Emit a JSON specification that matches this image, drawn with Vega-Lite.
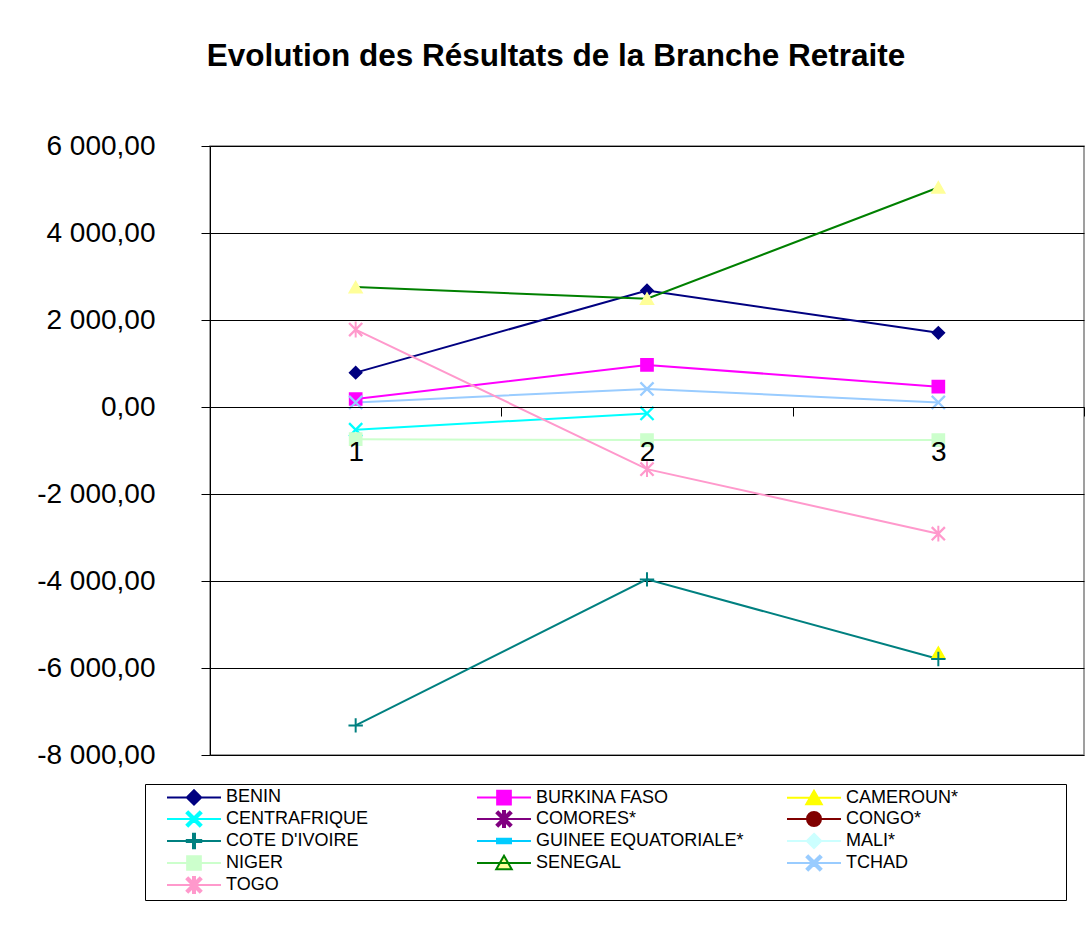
{
  "$schema": "https://vega.github.io/schema/vega-lite/v6.json",
  "width": 874,
  "height": 609,
  "autosize": {"type": "none"},
  "padding": {"left": 210, "top": 146, "right": 5, "bottom": 177},
  "background": "white",
  "config": {
    "locale": {"number": {"decimal": ",", "thousands": " ", "grouping": [3], "currency": ["", ""], "minus": "-"}},
    "font": "Liberation Sans",
    "view": {"stroke": "#808080", "strokeWidth": 1.5},
    "legend": {
      "orient": "none",
      "legendX": -65,
      "legendY": 638,
      "direction": "horizontal",
      "columns": 3,
      "labelFont": "Liberation Sans",
      "labelFontSize": 18,
      "labelColor": "black",
      "labelLimit": 400,
      "symbolSize": 324,
      "symbolStrokeWidth": 2,
      "symbolOpacity": 1,
      "symbolOffset": 36,
      "labelOffset": 22,
      "padding": 3,
      "strokeColor": "black",
      "fillColor": "white",
      "rowPadding": -2.5,
      "columnPadding": 11,
      "gridAlign": "all"
    }
  },
  "title": {
    "text": "Evolution des Résultats de la Branche Retraite",
    "font": "Liberation Sans",
    "fontSize": 31.5,
    "fontWeight": "bold",
    "color": "black",
    "anchor": "middle",
    "dx": -91,
    "offset": 60
  },
  "data": {
    "values": [
      {"country": "BENIN", "x": "1", "v": 790},
      {"country": "BENIN", "x": "2", "v": 2680},
      {"country": "BENIN", "x": "3", "v": 1705},
      {"country": "BURKINA FASO", "x": "1", "v": 184},
      {"country": "BURKINA FASO", "x": "2", "v": 968},
      {"country": "BURKINA FASO", "x": "3", "v": 468},
      {"country": "CAMEROUN*", "x": "3", "v": -5650},
      {"country": "CENTRAFRIQUE", "x": "1", "v": -523},
      {"country": "CENTRAFRIQUE", "x": "2", "v": -147},
      {"country": "COTE D'IVOIRE", "x": "1", "v": -7320},
      {"country": "COTE D'IVOIRE", "x": "2", "v": -3963},
      {"country": "COTE D'IVOIRE", "x": "3", "v": -5793},
      {"country": "NIGER", "x": "1", "v": -740},
      {"country": "NIGER", "x": "2", "v": -760},
      {"country": "NIGER", "x": "3", "v": -760},
      {"country": "SENEGAL", "x": "1", "v": 2756},
      {"country": "SENEGAL", "x": "2", "v": 2488},
      {"country": "SENEGAL", "x": "3", "v": 5046},
      {"country": "TCHAD", "x": "1", "v": 106},
      {"country": "TCHAD", "x": "2", "v": 415},
      {"country": "TCHAD", "x": "3", "v": 106},
      {"country": "TOGO", "x": "1", "v": 1781},
      {"country": "TOGO", "x": "2", "v": -1428},
      {"country": "TOGO", "x": "3", "v": -2912}
    ]
  },
  "layer": [
    {
      "mark": {"type": "line", "strokeWidth": 2},
      "encoding": {
        "x": {
          "field": "x",
          "type": "ordinal",
          "scale": {"type": "band", "domain": ["1", "2", "3"], "paddingInner": 0, "paddingOuter": 0},
          "axis": {
            "orient": "bottom",
            "offset": -348,
            "tickBand": "extent",
            "tickSize": 9,
            "tickColor": "black",
            "domainColor": "black",
            "labelFont": "Liberation Sans",
            "labelFontSize": 28,
            "labelColor": "black",
            "labelPadding": 22,
            "labelAngle": 0,
            "title": null,
            "grid": false,
            "zindex": 1
          }
        },
        "y": {
          "field": "v",
          "type": "quantitative",
          "scale": {"domain": [-8000, 6000], "nice": false, "zero": false},
          "axis": {
            "values": [-8000, -6000, -4000, -2000, 0, 2000, 4000, 6000],
            "format": ",.2f",
            "labelFont": "Liberation Sans",
            "labelFontSize": 28,
            "labelColor": "black",
            "labelPadding": 46,
            "tickSize": 9,
            "tickColor": "black",
            "domainColor": "black",
            "gridColor": "black",
            "gridOpacity": 1,
            "gridWidth": 1,
            "title": null,
            "zindex": 0
          }
        },
        "stroke": {
          "field": "country",
          "type": "nominal",
          "scale": {
            "domain": ["BENIN", "BURKINA FASO", "CAMEROUN*", "CENTRAFRIQUE", "COMORES*", "CONGO*", "COTE D'IVOIRE", "GUINEE EQUATORIALE*", "MALI*", "NIGER", "SENEGAL", "TCHAD", "TOGO"],
            "range": ["#000080", "#FF00FF", "#FFFF00", "#00FFFF", "#800080", "#800000", "#008080", "#00CCFF", "#CCFFFF", "#CCFFCC", "#008000", "#99CCFF", "#FF99CC"]
          },
          "legend": {"title": null}
        }
      }
    },
    {
      "mark": {"type": "point", "filled": true, "opacity": 1, "size": 324, "strokeWidth": 0},
      "encoding": {
        "x": {"field": "x", "type": "ordinal"},
        "y": {"field": "v", "type": "quantitative"},
        "fill": {
          "field": "country",
          "type": "nominal",
          "scale": {
            "domain": ["BENIN", "BURKINA FASO", "CAMEROUN*", "CENTRAFRIQUE", "COMORES*", "CONGO*", "COTE D'IVOIRE", "GUINEE EQUATORIALE*", "MALI*", "NIGER", "SENEGAL", "TCHAD", "TOGO"],
            "range": ["#000080", "#FF00FF", "#FFFF00", "#00FFFF", "#800080", "#800000", "#008080", "#00CCFF", "#CCFFFF", "#CCFFCC", "#FFFF99", "#99CCFF", "#FF99CC"]
          },
          "legend": {"title": null}
        },
        "shape": {
          "field": "country",
          "type": "nominal",
          "scale": {
            "domain": ["BENIN", "BURKINA FASO", "CAMEROUN*", "CENTRAFRIQUE", "COMORES*", "CONGO*", "COTE D'IVOIRE", "GUINEE EQUATORIALE*", "MALI*", "NIGER", "SENEGAL", "TCHAD", "TOGO"],
            "range": [
              "M-5.1,0M27.2,0M-3,0H3M0,-0.8L0.8,0L0,0.8L-0.8,0Z",
              "M-5.1,0M27.2,0M-3,0H3M-0.76,-0.76H0.76V0.76H-0.76Z",
              "M-5.1,0M27.2,0M-3,0H3M0,-0.8L0.86,0.7L-0.86,0.7Z",
              "M-5.1,0M27.2,0M-3,0H3M-0.82,-0.64L-0.64,-0.82L0.82,0.64L0.64,0.82ZM0.64,-0.82L0.82,-0.64L-0.64,0.82L-0.82,0.64Z",
              "M-5.1,0M27.2,0M-3,0H3M-0.82,-0.64L-0.64,-0.82L0.82,0.64L0.64,0.82ZM0.64,-0.82L0.82,-0.64L-0.64,0.82L-0.82,0.64ZM-0.11,-0.88H0.11V0.88H-0.11Z",
              "M-5.1,0M27.2,0M-3,0H3M0.78,0A0.78,0.78 0 1,1 -0.78,0A0.78,0.78 0 1,1 0.78,0Z",
              "M-5.1,0M27.2,0M-3,0H3M-0.11,-0.8H0.11V0.8H-0.11ZM-0.8,-0.11H0.8V0.11H-0.8Z",
              "M-5.1,0M27.2,0M-3,0H3M-0.78,-0.26H0.78V0.26H-0.78Z",
              "M-5.1,0M27.2,0M-3,0H3M0,-0.8L0.8,0L0,0.8L-0.8,0Z",
              "M-5.1,0M27.2,0M-3,0H3M-0.76,-0.76H0.76V0.76H-0.76Z",
              "M-5.1,0M27.2,0M-3,0H3M0,-0.8L0.86,0.7L-0.86,0.7Z",
              "M-5.1,0M27.2,0M-3,0H3M-0.82,-0.64L-0.64,-0.82L0.82,0.64L0.64,0.82ZM0.64,-0.82L0.82,-0.64L-0.64,0.82L-0.82,0.64Z",
              "M-5.1,0M27.2,0M-3,0H3M-0.82,-0.64L-0.64,-0.82L0.82,0.64L0.64,0.82ZM0.64,-0.82L0.82,-0.64L-0.64,0.82L-0.82,0.64ZM-0.11,-0.88H0.11V0.88H-0.11Z"
            ]
          },
          "legend": {"title": null}
        }
      }
    }
  ]
}
